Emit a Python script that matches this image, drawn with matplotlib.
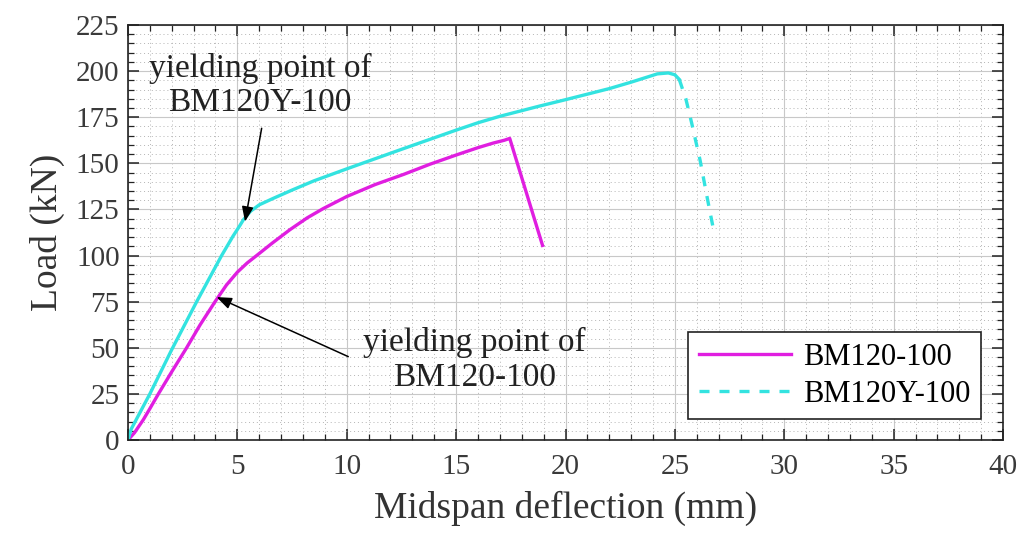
import matplotlib
matplotlib.use("Agg")
import matplotlib.pyplot as plt
from matplotlib.lines import Line2D
from matplotlib.ticker import MultipleLocator

plt.rcParams['font.family'] = ['Liberation Serif', 'DejaVu Serif']

# BM120-100 (magenta, solid)
bm120_x = [0, 0.3, 0.7, 1.0, 1.39, 2.0, 2.68, 3.3, 3.98, 4.5, 5.0, 5.45, 5.88,
           6.6, 7.4, 8.2, 8.93, 10.0, 11.3, 12.6, 13.8, 15.0, 16.0, 16.7,
           17.2, 17.45, 18.95]
bm120_y = [0, 4, 11, 17, 25, 37, 50, 62.5, 75, 84, 91, 96, 100,
           106.8, 114, 120.5, 125.5, 132, 138.5, 144, 149.5, 154.5, 158.5, 161,
           162.5, 163.5, 105.5]

# BM120Y-100 (cyan) loading branch and post-peak branch
bm120y_x = [0, 0.15, 1.0, 2.0, 3.14, 4.28, 4.8, 5.1, 5.27, 5.6, 6.0,
            6.64, 7.5, 8.5, 10.0, 11.3, 12.6, 13.8, 15.0, 16.0, 17.0, 18.8,
            20.0, 21.0, 22.0, 23.0, 24.2, 24.7, 25.0, 25.2]
bm120y_y = [0, 6, 25, 49, 75, 100, 110.5, 116, 119.3, 124, 127.5,
            131, 135.5, 140.5, 147, 152.5, 158, 163, 168, 172, 175.5, 181,
            184.5, 187.5, 190.5, 194, 198.5, 199, 198, 195.5]
bm120y_drop_x = [25.2, 25.5, 25.77, 26.15, 26.5, 26.75]
bm120y_drop_y = [195.5, 185, 171.7, 151.8, 130, 115]

series_labels = ['BM120-100', 'BM120Y-100']
x_ticks = [0, 5, 10, 15, 20, 25, 30, 35, 40]
y_ticks = [0, 25, 50, 75, 100, 125, 150, 175, 200, 225]

magenta = '#e01ee0'
cyan = '#33e3e0'

fig = plt.figure(figsize=(10.28, 5.49), dpi=100)
ax = fig.add_axes([0.1245, 0.1985, 0.8512, 0.756])

ax.plot(bm120_x, bm120_y, color=magenta, lw=2.4, solid_joinstyle='round')
ax.plot(bm120y_x, bm120y_y, color=cyan, lw=2.4, solid_joinstyle='round')
ax.plot(bm120y_drop_x, bm120y_drop_y, color=cyan, lw=2.4, ls=(0, (3, 3)))

ax.set_xlim(0, 40)
ax.set_ylim(0, 225)
ax.set_xticks(x_ticks)
ax.set_yticks(y_ticks)
ax.xaxis.set_minor_locator(MultipleLocator(1))
ax.yaxis.set_minor_locator(MultipleLocator(5))
ax.grid(which='major', color='#c8c8c8', lw=0.8, ls='-')
ax.grid(which='minor', color='#b4b4b4', lw=0.7, ls=(0, (1, 3)))
ax.set_axisbelow(True)
ax.tick_params(which='both', direction='in', top=True, right=True,
               labelsize=21, colors='#222222', labelcolor='#3a3a3a')
ax.tick_params(which='major', length=8, width=1.1)
ax.tick_params(which='minor', length=4, width=0.9)
ax.tick_params(axis='x', pad=10)
ax.tick_params(axis='y', pad=6)
for s in ax.spines.values():
    s.set_linewidth(1.2)
    s.set_color('#222222')

ax.set_xlabel('Midspan deflection (mm)', fontsize=27, color='#333333', labelpad=8)
ax.set_ylabel('Load (kN)', fontsize=27, color='#333333', labelpad=8)

# annotations
ax.text(6.03, 192, 'yielding point of\nBM120Y-100', ha='center', va='center',
        fontsize=24, color='#222222', linespacing=1.15)
ax.annotate('', xy=(5.35, 118.4), xytext=(6.11, 169),
            arrowprops=dict(arrowstyle='-|>,head_length=0.9,head_width=0.35',
                            color='black', lw=1.1, shrinkA=0, shrinkB=0))
ax.text(15.84, 43.4, 'yielding point of\nBM120-100', ha='center', va='center',
        fontsize=24, color='#222222', linespacing=1.15)
ax.annotate('', xy=(4.05, 77.5), xytext=(10.07, 45.2),
            arrowprops=dict(arrowstyle='-|>,head_length=0.9,head_width=0.35',
                            color='black', lw=1.1, shrinkA=0, shrinkB=0))

handles = [Line2D([], [], color=magenta, lw=2.4),
           Line2D([], [], color=cyan, lw=2.4, ls=(0, (3, 3)))]
leg = ax.legend(handles, series_labels, loc='lower right',
                bbox_to_anchor=(0.975, 0.05), fontsize=22, frameon=True,
                fancybox=False, edgecolor='#222222', handlelength=3.0,
                borderpad=0.35, labelspacing=0.25, handletextpad=0.4,
                borderaxespad=0)
leg.get_frame().set_linewidth(1.2)
leg.get_frame().set_facecolor('white')
leg.get_frame().set_alpha(1)

fig.savefig('out.png', dpi=100)
